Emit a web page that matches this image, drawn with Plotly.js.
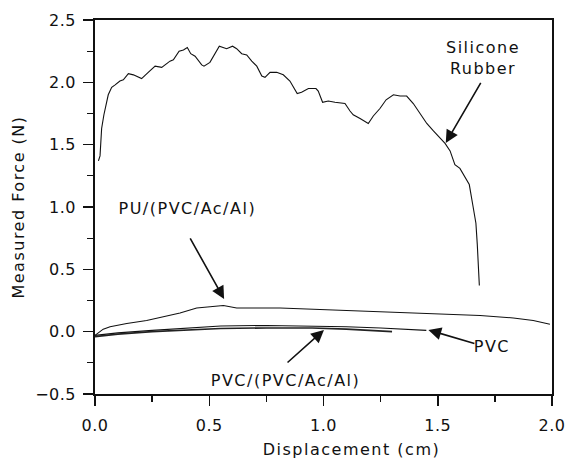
<!DOCTYPE html>
<html>
<head>
<meta charset="utf-8">
<script src="https://cdn.plot.ly/plotly-3.0.1.min.js"></script>
<style>
html,body{margin:0;padding:0;background:#fff;}
#chart{width:566px;height:469px;}
#chart .annotation-text, #chart .xtitle, #chart .ytitle { letter-spacing: 1.5px; }
#chart .xtick text, #chart .ytick text { letter-spacing: 0.5px; }
#chart .xtitle { transform: translateX(28px); }
</style>
</head>
<body>
<div id="chart"></div>
<script>
// Silicone Rubber
const siliconeX = [0.015,0.022,0.029,0.039,0.058,0.073,0.088,0.109,0.124,0.146,0.168,0.204,0.233,0.263,0.292,0.328,0.343,0.368,0.387,0.404,0.419,0.438,0.467,0.477,0.503,0.525,0.544,0.576,0.602,0.620,0.642,0.664,0.686,0.708,0.730,0.744,0.766,0.795,0.824,0.853,0.868,0.885,0.904,0.934,0.967,0.977,0.996,1.021,1.050,1.094,1.116,1.130,1.160,1.196,1.218,1.247,1.274,1.306,1.335,1.364,1.393,1.422,1.452,1.481,1.510,1.532,1.554,1.575,1.597,1.627,1.638,1.653,1.667,1.673,1.677,1.682];
const siliconeY = [1.37,1.41,1.63,1.74,1.90,1.96,1.98,2.01,2.02,2.07,2.06,2.03,2.08,2.13,2.12,2.17,2.18,2.25,2.26,2.28,2.23,2.21,2.14,2.13,2.16,2.23,2.29,2.27,2.29,2.27,2.23,2.22,2.17,2.13,2.05,2.04,2.08,2.08,2.06,2.01,1.96,1.91,1.92,1.95,1.95,1.93,1.84,1.85,1.84,1.83,1.77,1.74,1.71,1.67,1.73,1.79,1.86,1.90,1.89,1.89,1.83,1.75,1.67,1.61,1.55,1.51,1.45,1.34,1.31,1.22,1.18,1.02,0.87,0.70,0.51,0.37];

// PU/(PVC/Ac/Al)
const puX = [0.0,0.036,0.066,0.139,0.226,0.299,0.343,0.372,0.445,0.518,0.562,0.620,0.810,1.101,1.393,1.685,1.831,1.918,1.991];
const puY = [-0.03,0.02,0.04,0.066,0.09,0.12,0.14,0.15,0.19,0.20,0.21,0.19,0.19,0.17,0.15,0.13,0.11,0.09,0.06];

// PVC
const pvcX = [0.0,0.10,0.25,0.40,0.55,0.75,0.95,1.10,1.25,1.35,1.45];
const pvcY = [-0.03,-0.01,0.01,0.03,0.045,0.05,0.045,0.04,0.03,0.02,0.01];

// PVC/(PVC/Ac/Al)
const pvcAlX = [0.0,0.10,0.25,0.40,0.55,0.75,0.95,1.10,1.20,1.30];
const pvcAlY = [-0.04,-0.02,0.0,0.015,0.025,0.03,0.03,0.02,0.01,0.0];

const xTickVals = [0.0,0.5,1.0,1.5,2.0];
const yTickVals = [-0.5,0.0,0.5,1.0,1.5,2.0,2.5];

const FONT = "DejaVu Sans, Arial, sans-serif";
const lineStyle = {color:'#111', width:1.1};

const traces = [
  {x:siliconeX, y:siliconeY, mode:'lines', name:'Silicone Rubber', line:lineStyle},
  {x:puX, y:puY, mode:'lines', name:'PU/(PVC/Ac/Al)', line:lineStyle},
  {x:pvcX, y:pvcY, mode:'lines', name:'PVC', line:lineStyle},
  {x:pvcAlX, y:pvcAlY, mode:'lines', name:'PVC/(PVC/Ac/Al)', line:{color:'#222', width:1.6}}
];

function arrow(hx, hy, tx, ty){
  return {x:hx, y:hy, ax:tx, ay:ty, xref:'x', yref:'y', axref:'x', ayref:'y',
    text:'', showarrow:true, arrowhead:2, arrowsize:1.6, arrowwidth:1.6, arrowcolor:'#111'};
}
function label(txt, x, y){
  return {x:x, y:y, xref:'x', yref:'y', text:txt, showarrow:false,
    font:{family:FONT, size:16, color:'#111'}, xanchor:'center', yanchor:'middle'};
}

const layout = {
  width:566, height:469,
  margin:{l:95, r:14, t:20, b:75},
  paper_bgcolor:'#fff', plot_bgcolor:'#fff',
  showlegend:false,
  font:{family:FONT, size:16, color:'#111'},
  xaxis:{
    range:[0,2.0], tickvals:xTickVals, tickformat:'.1f',
    ticks:'outside', ticklen:10, tickwidth:1.5, tickcolor:'#111',
    minor:{dtick:0.25, tick0:0, ticks:'outside', ticklen:6, tickwidth:1.3, tickcolor:'#111'},
    showline:true, linecolor:'#111', linewidth:1.8, mirror:true,
    showgrid:false, zeroline:false, ticklabelstandoff:6,
    tickfont:{family:FONT, size:16, color:'#111'},
    title:{text:'Displacement (cm)', font:{family:FONT, size:16, color:'#111'}, standoff:10}
  },
  yaxis:{
    range:[-0.5,2.5], tickvals:yTickVals, tickformat:'.1f',
    ticks:'outside', ticklen:10, tickwidth:1.5, tickcolor:'#111',
    minor:{dtick:0.25, tick0:0, ticks:'outside', ticklen:6, tickwidth:1.3, tickcolor:'#111'},
    showline:true, linecolor:'#111', linewidth:1.8, mirror:true,
    showgrid:false, zeroline:false, ticklabelstandoff:4,
    tickfont:{family:FONT, size:16, color:'#111'},
    title:{text:'Measured Force (N)', font:{family:FONT, size:16, color:'#111'}, standoff:8}
  },
  annotations:[
    label('Silicone<br>Rubber', 1.698, 2.198),
    arrow(1.535, 1.514, 1.692, 2.008),
    label('PU/(PVC/Ac/Al)', 0.405, 0.99),
    arrow(0.565, 0.262, 0.413, 0.76),
    label('PVC', 1.737, -0.12),
    arrow(1.459, 0.014, 1.667, -0.098),
    label('PVC/(PVC/Ac/Al)', 0.834, -0.39),
    arrow(1.002, 0.014, 0.836, -0.258)
  ]
};

Plotly.newPlot('chart', traces, layout, {displayModeBar:false, staticPlot:true});
</script>
</body>
</html>
